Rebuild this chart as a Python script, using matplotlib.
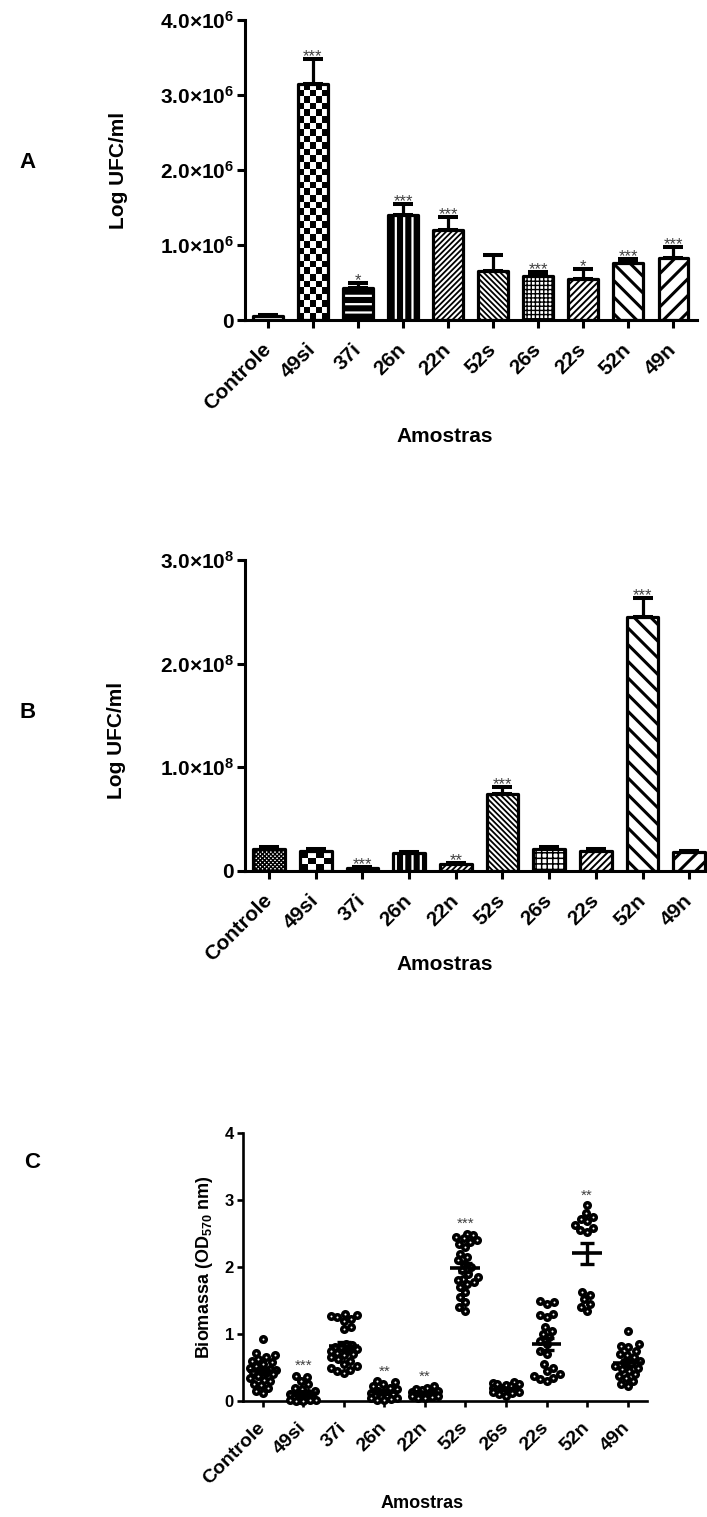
import numpy as np
import matplotlib
matplotlib.use('Agg')
import matplotlib.pyplot as plt
from matplotlib.ticker import FuncFormatter, FixedLocator

plt.rcParams['font.family'] = ['Liberation Sans', 'DejaVu Sans']
plt.rcParams['font.weight'] = 'bold'
plt.rcParams['mathtext.fontset'] = 'custom'
plt.rcParams['mathtext.rm'] = 'Liberation Sans:bold'
plt.rcParams['mathtext.bf'] = 'Liberation Sans:bold'
plt.rcParams['mathtext.it'] = 'Liberation Sans:bold'
plt.rcParams['mathtext.default'] = 'bf'
plt.rcParams['hatch.linewidth'] = 1.5

# ---------------- data ----------------
categories = ['Controle', '49si', '37i', '26n', '22n', '52s', '26s', '22s', '52n', '49n']

a_values = [0.06e6, 3.15e6, 0.43e6, 1.40e6, 1.20e6, 0.66e6, 0.59e6, 0.55e6, 0.76e6, 0.83e6]
a_errors = [0.01e6, 0.33e6, 0.06e6, 0.15e6, 0.17e6, 0.21e6, 0.05e6, 0.13e6, 0.05e6, 0.14e6]
a_stars = ['', '***', '*', '***', '***', '', '***', '*', '***', '***']

b_values = [0.21e8, 0.19e8, 0.03e8, 0.17e8, 0.07e8, 0.74e8, 0.21e8, 0.19e8, 2.45e8, 0.18e8]
b_errors = [0.02e8, 0.02e8, 0.005e8, 0.01e8, 0.01e8, 0.07e8, 0.02e8, 0.02e8, 0.18e8, 0.01e8]
b_stars = ['', '', '***', '', '**', '***', '', '', '***', '']

c_controle = [0.93, 0.72, 0.68, 0.65, 0.62, 0.60, 0.58, 0.55, 0.52, 0.50, 0.48, 0.46, 0.45,
              0.43, 0.42, 0.40, 0.38, 0.35, 0.32, 0.30, 0.26, 0.24, 0.20, 0.15, 0.12]
c_49si = [0.38, 0.36, 0.30, 0.25, 0.20, 0.18, 0.15, 0.12, 0.10, 0.08, 0.06, 0.05, 0.04,
          0.03, 0.02, 0.02, 0.01, 0.01, 0.00, 0.00]
c_37i = [1.30, 1.29, 1.27, 1.25, 1.23, 1.20, 1.10, 1.08, 0.85, 0.83, 0.80, 0.80, 0.78, 0.76,
         0.75, 0.72, 0.70, 0.68, 0.65, 0.62, 0.60, 0.55, 0.52, 0.50, 0.47, 0.45, 0.42]
c_26n = [0.30, 0.28, 0.25, 0.22, 0.20, 0.18, 0.15, 0.14, 0.12, 0.10, 0.08, 0.07, 0.06,
         0.05, 0.04, 0.03, 0.02, 0.01]
c_22n = [0.22, 0.20, 0.18, 0.16, 0.15, 0.14, 0.13, 0.12, 0.11, 0.10, 0.10, 0.09, 0.08,
         0.08, 0.07, 0.06, 0.05, 0.05]
c_52s = [2.50, 2.48, 2.45, 2.43, 2.40, 2.38, 2.35, 2.30, 2.20, 2.15, 2.10, 2.05, 2.00,
         1.95, 1.90, 1.85, 1.82, 1.80, 1.78, 1.75, 1.70, 1.62, 1.55, 1.48, 1.40, 1.35]
c_26s = [0.28, 0.27, 0.26, 0.25, 0.24, 0.22, 0.20, 0.20, 0.18, 0.17, 0.16, 0.15, 0.14,
         0.13, 0.12, 0.10, 0.08]
c_22s = [1.50, 1.48, 1.45, 1.30, 1.28, 1.25, 1.10, 1.05, 1.00, 0.95, 0.90, 0.85, 0.75,
         0.70, 0.55, 0.50, 0.45, 0.40, 0.38, 0.35, 0.33, 0.30]
c_52n = [2.92, 2.80, 2.75, 2.72, 2.68, 2.62, 2.58, 2.55, 2.52, 1.62, 1.58, 1.52, 1.45,
         1.40, 1.35]
c_49n = [1.05, 0.85, 0.82, 0.80, 0.75, 0.70, 0.68, 0.65, 0.60, 0.58, 0.55, 0.52, 0.50,
         0.48, 0.45, 0.40, 0.38, 0.35, 0.30, 0.25, 0.22]
c_groups = [c_controle, c_49si, c_37i, c_26n, c_22n, c_52s, c_26s, c_22s, c_52n, c_49n]
c_stars = ['', '***', '', '**', '**', '***', '', '', '**', '']

# ---------------- styles ----------------
# (face, hatch, hatch colour, hatch linewidth, checker square px)
a_styles = [
    ('white', '', 'black', 1.0, None),
    ('white', '', 'black', 1.0, 6.5),
    ('black', '--', 'white', 1.6, None),
    ('black', '||', 'white', 1.6, None),
    ('white', '//////', 'black', 1.3, None),
    ('white', '\\\\\\\\\\\\', 'black', 1.3, None),
    ('white', '++++', 'black', 1.0, None),
    ('white', '/////', 'black', 1.4, None),
    ('white', '\\\\', 'black', 2.2, None),
    ('white', '//', 'black', 2.2, None),
]
b_styles = [
    ('white', 'xxxxxxxx', 'black', 1.0, None),
    ('white', '', 'black', 1.0, 7.5),
    ('white', '', 'black', 1.0, None),
    ('black', '||', 'white', 1.6, None),
    ('white', '//////', 'black', 1.3, None),
    ('white', '\\\\\\\\\\\\', 'black', 1.3, None),
    ('white', '+++', 'black', 1.1, None),
    ('white', '/////', 'black', 1.4, None),
    ('white', '\\\\', 'black', 2.2, None),
    ('white', '//', 'black', 2.2, None),
]

W, H = 707, 1517
fig = plt.figure(figsize=(W / 100, H / 100), dpi=100)


def ax_at(left, top, right, bottom):
    return fig.add_axes([left / W, 1 - bottom / H, (right - left) / W, (bottom - top) / H])


def style_axes(ax, lw, ticklen, tickfs_x, tickfs_y, xpad):
    for s in ('top', 'right'):
        ax.spines[s].set_visible(False)
    for s in ('left', 'bottom'):
        ax.spines[s].set_linewidth(lw)
    ax.tick_params(axis='both', direction='out', length=ticklen, width=lw, color='black')
    ax.tick_params(axis='y', labelsize=tickfs_y, pad=2)
    ax.tick_params(axis='x', labelsize=tickfs_x, pad=xpad)
    ax.set_xticks(range(len(categories)))
    ax.set_xticklabels(categories, rotation=45, ha='right', va='center',
                       rotation_mode='anchor', fontweight='bold')
    for lab in ax.get_yticklabels():
        lab.set_fontweight('bold')


def sci_formatter(exp):
    def f(v, pos):
        if abs(v) < 1e-9:
            return '0'
        return '%.1f×10$^{%d}$' % (v / 10 ** exp, exp)
    return FuncFormatter(f)


def draw_bars(ax, vals, errs, styles, stars, width, xlim, ylim, outline_lw):
    ax.set_xlim(*xlim)
    ax.set_ylim(*ylim)
    x = np.arange(len(vals))
    for i, (v, e, st) in enumerate(zip(vals, errs, styles)):
        face, hatch, hcol, hlw, checker = st
        ax.bar(x[i], v, width, color=face, edgecolor='none', linewidth=0, zorder=2)
        if checker is not None:
            x0, x1 = x[i] - width / 2, x[i] + width / 2
            p0 = ax.transData.transform((x0, 0))
            p1 = ax.transData.transform((x1, v))
            nx = max(1, int(round((p1[0] - p0[0]) / checker)))
            ny = max(1, int(round((p1[1] - p0[1]) / checker)))
            img = np.add.outer(np.arange(ny), np.arange(nx)) % 2
            ax.imshow(img, cmap='gray', vmin=0, vmax=1, extent=(x0, x1, 0, v),
                      origin='lower', interpolation='nearest', aspect='auto', zorder=2.5)
        if hatch:
            with plt.rc_context({'hatch.linewidth': hlw}):
                bc = ax.bar(x[i], v, width, facecolor='none', edgecolor=hcol, hatch=hatch,
                            linewidth=0, zorder=3)
            for p in bc:
                if hasattr(p, 'set_hatch_linewidth'):
                    p.set_hatch_linewidth(hlw)
        ax.bar(x[i], v, width, facecolor='none', edgecolor='black', linewidth=outline_lw,
               joinstyle='round', zorder=4)
        ax.errorbar(x[i], v, yerr=[[0], [e]], fmt='none', ecolor='black',
                    elinewidth=outline_lw, capsize=7, capthick=outline_lw + 0.6, zorder=1.5)
        if stars[i]:
            ax.annotate(stars[i], (x[i], v + e), xytext=(0, -1.5), textcoords='offset points',
                        ha='center', va='baseline', fontsize=12, fontweight='normal',
                        color='#404040', zorder=5)
    ax.set_xlim(*xlim)
    ax.set_ylim(*ylim)


# ---------------- Panel A ----------------
axA = ax_at(245, 20, 697, 320)
draw_bars(axA, a_values, a_errors, a_styles, a_stars, 0.65, (-0.51, 9.53), (0, 4.0e6), 2.3)
axA.yaxis.set_major_locator(FixedLocator([0, 1e6, 2e6, 3e6, 4e6]))
axA.yaxis.set_major_formatter(sci_formatter(6))
style_axes(axA, 2.2, 6, 15, 15, 13)

# ---------------- Panel B ----------------
axB = ax_at(245, 560, 707, 871)
draw_bars(axB, b_values, b_errors, b_styles, b_stars, 0.68, (-0.514, 9.38), (0, 3.0e8), 2.3)
axB.yaxis.set_major_locator(FixedLocator([0, 1e8, 2e8, 3e8]))
axB.yaxis.set_major_formatter(sci_formatter(8))
style_axes(axB, 2.2, 6, 15, 15, 13)

# ---------------- Panel C ----------------
axC = ax_at(243, 1133, 647, 1401)
axC.set_xlim(-0.49, 9.48)
axC.set_ylim(0, 4)


def swarm_offsets(vals, ax, d, max_px):
    p0 = ax.transData.transform((0, 0))
    p1 = ax.transData.transform((1, 1))
    sx = p1[0] - p0[0]
    sy = p1[1] - p0[1]
    ys = np.asarray(vals, dtype=float) * sy
    order = np.argsort(ys)
    px_list, py_list = [], []
    offs = np.zeros(len(ys))
    nsteps = int(max_px / 0.5)
    for n, idx in enumerate(order):
        y = ys[idx]
        sign = 1 if n % 2 == 0 else -1
        cand = [0.0]
        for k in range(1, nsteps + 1):
            cand += [sign * k * 0.5, -sign * k * 0.5]
        chosen = None
        best, best_c = -1.0, 0.0
        for c in cand:
            if px_list:
                dmin = min(np.hypot(c - qx, y - qy) for qx, qy in zip(px_list, py_list))
            else:
                dmin = 1e9
            if dmin >= d:
                chosen = c
                break
            if dmin > best + 1e-9:
                best, best_c = dmin, c
        if chosen is None:
            chosen = best_c
        px_list.append(chosen)
        py_list.append(y)
        offs[idx] = chosen
    return offs / sx


for i, grp in enumerate(c_groups):
    offs = swarm_offsets(grp, axC, 7.0, 13.0)
    axC.plot(i + offs, grp, 'o', ms=4.0, mfc='white', mec='black', mew=2.5,
             linestyle='none', zorder=3, clip_on=False)
    g = np.asarray(grp)
    m = g.mean()
    sem = g.std(ddof=1) / np.sqrt(len(g))
    axC.hlines(m, i - 0.37, i + 0.37, color='black', lw=2.6, zorder=4)
    axC.errorbar(i, m, yerr=sem, fmt='none', ecolor='black', elinewidth=2.4,
                 capsize=5.3, capthick=2.4, zorder=4)
    if c_stars[i]:
        axC.annotate(c_stars[i], (i, g.max()), xytext=(0, 4), textcoords='offset points',
                     ha='center', va='baseline', fontsize=11, fontweight='normal',
                     color='#404040', zorder=5)

axC.yaxis.set_major_locator(FixedLocator([0, 1, 2, 3, 4]))
axC.yaxis.set_major_formatter(FuncFormatter(lambda v, p: '%d' % v))
style_axes(axC, 1.9, 4.5, 14, 12, 13)

# ---------------- labels ----------------
def ftext(x, y, s, **kw):
    fig.text(x / W, 1 - y / H, s, **kw)

ftext(28, 163, 'A', fontsize=16, fontweight='bold', ha='center', va='center')
ftext(28, 712, 'B', fontsize=16, fontweight='bold', ha='center', va='center')
ftext(32, 1162, 'C', fontsize=16, fontweight='bold', ha='center', va='center')

ftext(119, 170, 'Log UFC/ml', fontsize=15, fontweight='bold', rotation=90, ha='center', va='center')
ftext(117, 740, 'Log UFC/ml', fontsize=15, fontweight='bold', rotation=90, ha='center', va='center')
ftext(204, 1267, 'Biomassa (OD$_{570}$ nm)', fontsize=13, fontweight='bold', rotation=90,
      ha='center', va='center')

ftext(445, 437, 'Amostras', fontsize=15, fontweight='bold', ha='center', va='center')
ftext(445, 965, 'Amostras', fontsize=15, fontweight='bold', ha='center', va='center')
ftext(422, 1503, 'Amostras', fontsize=13, fontweight='bold', ha='center', va='center')

fig.savefig('out.png', dpi=100, facecolor='white')
